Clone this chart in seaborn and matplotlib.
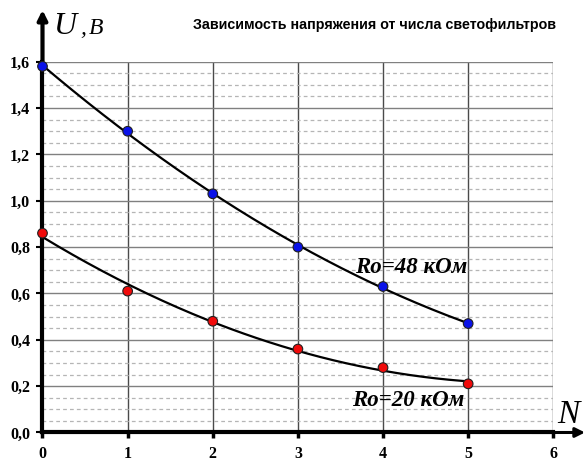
import numpy as np
import pandas as pd
import matplotlib
matplotlib.use("Agg")
import matplotlib.pyplot as plt
import seaborn as sns

# Number of light filters
n_filters = [0, 1, 2, 3, 4, 5]
# Measured voltage, V
u_48k = [1.58, 1.30, 1.03, 0.80, 0.63, 0.47]
u_20k = [0.86, 0.61, 0.48, 0.36, 0.28, 0.21]

y_ticks = [0.0, 0.2, 0.4, 0.6, 0.8, 1.0, 1.2, 1.4, 1.6]
x_ticks = [0, 1, 2, 3, 4, 5, 6]

title = "Зависимость напряжения от числа светофильтров"
label_48 = "Ro=48 кОм"
label_20 = "Ro=20 кОм"

df = pd.DataFrame({
    "N": n_filters * 2,
    "U": u_48k + u_20k,
    "series": [label_48] * len(n_filters) + [label_20] * len(n_filters),
})

# Second-order polynomial trend lines
xs = np.linspace(0, 5, 200)
trend = []
for name, vals in ((label_48, u_48k), (label_20, u_20k)):
    coef = np.polyfit(n_filters, vals, 2)
    trend.append(pd.DataFrame({"N": xs, "U": np.polyval(coef, xs), "series": name}))
trend = pd.concat(trend, ignore_index=True)

sns.set_style("white")
plt.rcParams["font.family"] = ["Liberation Serif", "DejaVu Serif"]
plt.rcParams["text.color"] = "black"

fig = plt.figure(figsize=(5.87, 4.63), dpi=100)
ax = fig.add_axes([0.0724, 0.0659, 0.9426 - 0.0724, 0.8667 - 0.0659])

ax.set_xlim(0, 6)
ax.set_ylim(0, 1.6)
ax.set_yticks(y_ticks)
ax.set_yticklabels([f"{v:.1f}".replace(".", ",") for v in y_ticks],
                   fontsize=11.5, fontweight="bold")
ax.set_xticks(x_ticks)
ax.set_xticklabels([str(v) for v in x_ticks], fontsize=11.5, fontweight="bold")
ax.set_yticks(np.arange(0, 1.6001, 0.05), minor=True)

# Grid: solid verticals, solid major horizontals, dashed minor horizontals
ax.grid(axis="x", which="major", color="#4a4a4a", linewidth=1.0, linestyle="-")
ax.grid(axis="y", which="major", color="#808080", linewidth=1.0, linestyle="-")
ax.grid(axis="y", which="minor", color="#b5b5b5", linewidth=0.9, linestyle=(0, (3, 2.5)))
ax.set_axisbelow(True)

for side in ("top", "right"):
    ax.spines[side].set_visible(False)
ax.spines["left"].set_linewidth(3)
ax.spines["bottom"].set_linewidth(3)
ax.spines["left"].set_color("black")
ax.spines["bottom"].set_color("black")

ax.tick_params(axis="x", which="major", direction="out", length=4, width=2.5,
               pad=6, bottom=True, colors="black")
ax.tick_params(axis="y", which="major", direction="out", length=4, width=1.5,
               pad=5, left=True, colors="black")
ax.tick_params(axis="y", which="minor", length=0)

sns.lineplot(data=trend, x="N", y="U", hue="series",
             palette={label_48: "black", label_20: "black"},
             linewidth=1.6, legend=False, ax=ax, zorder=3)
sns.scatterplot(data=df, x="N", y="U", hue="series",
                palette={label_48: "#0a12e8", label_20: "#f00a0a"},
                s=48, edgecolor="#202020", linewidth=0.8, legend=False,
                ax=ax, zorder=5, clip_on=False)
ax.set_xlabel("")
ax.set_ylabel("")

# Axis arrows
ax.annotate("", xy=(0, 1 - 10 / 463), xycoords=("data", "figure fraction"),
            xytext=(0, 1.6), textcoords="data",
            arrowprops=dict(arrowstyle="-|>", color="black", lw=3,
                            mutation_scale=14, shrinkA=0, shrinkB=0),
            annotation_clip=False)
ax.annotate("", xy=(585 / 587, 0), xycoords=("figure fraction", "data"),
            xytext=(5.75, 0), textcoords="data",
            arrowprops=dict(arrowstyle="-|>", color="black", lw=2.2,
                            mutation_scale=14, shrinkA=0, shrinkB=0),
            annotation_clip=False)

# Axis names
fig.text(53 / 587, 1 - 34 / 463, "U", fontsize=23, style="italic",
         family=["Liberation Serif"], ha="left", va="baseline")
fig.text(80 / 587, 1 - 34 / 463, ",", fontsize=17, style="italic",
         family=["Liberation Serif"], ha="left", va="baseline")
fig.text(89 / 587, 1 - 34 / 463, "B", fontsize=17, style="italic",
         family=["Liberation Serif"], ha="left", va="baseline")
fig.text(557 / 587, 1 - 423 / 463, "N", fontsize=24, style="italic",
         family=["Liberation Serif"], ha="left", va="baseline")

# Title
fig.text(193 / 587, 1 - 29 / 463, title, fontsize=10.3, fontweight="bold",
         family=["Liberation Sans", "DejaVu Sans"], ha="left", va="baseline")

# Series labels
ax.text(3.67, 0.69, label_48, fontsize=16.5, fontweight="bold", style="italic",
        family=["Liberation Serif"], ha="left", va="baseline")
ax.text(3.63, 0.114, label_20, fontsize=16.5, fontweight="bold", style="italic",
        family=["Liberation Serif"], ha="left", va="baseline")

fig.savefig("out.png", dpi=100)
